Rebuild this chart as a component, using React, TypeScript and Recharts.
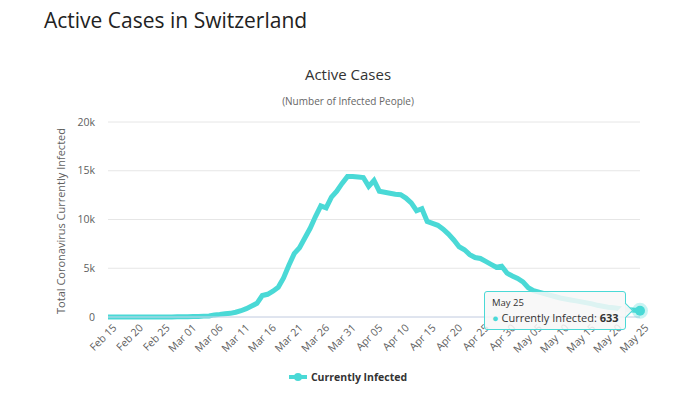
import React from "react";
import {
  LineChart,
  Line,
  XAxis,
  YAxis,
  CartesianGrid,
  Tooltip,
  Legend,
} from "recharts";

const MONTHS = ["Feb", "Mar", "Apr", "May"];
const FIRST_DAY = [15, 1, 1, 1];
const LAST_DAY = [29, 31, 30, 25];

// daily active cases, Feb 15 -> May 25
const ACTIVE = [
  0, 0, 0, 0, 0, 0, 0, 0, 0, 0,
  1, 1, 8, 15, 18,
  27, 42, 56, 90, 114,
  214, 268, 337, 374, 491,
  645, 858, 1125, 1400, 2200,
  2330, 2650, 3050, 4000, 5300,
  6500, 7100, 8100, 9100, 10300,
  11400, 11200, 12300, 12900, 13700,
  14400, 14400, 14350, 14300, 13400,
  14000, 12900, 12800, 12700, 12600,
  12550, 12200, 11700, 10900, 11100,
  9800, 9600, 9400, 9000, 8500,
  7900, 7200, 6900, 6400, 6100,
  6000, 5700, 5400, 5100, 5200,
  4500, 4200, 3950, 3600, 3000,
  2700, 2550, 2400, 2250, 2100,
  1950, 1850, 1750, 1650, 1550,
  1450, 1350, 1200, 1100, 1000,
  950, 880, 800, 740, 690,
  633,
];

const Y_TICKS = [0, 5000, 10000, 15000, 20000];

const pad = (d: number) => (d < 10 ? "0" + d : String(d));
const DATES: string[] = [];
MONTHS.forEach((m, k) => {
  for (let d = FIRST_DAY[k]; d <= LAST_DAY[k]; d++) DATES.push(`${m} ${pad(d)}`);
});

const data = DATES.map((date, i) => ({ date, infected: ACTIVE[i] }));

const TEAL = "#4ad9d6";
const FONT = "'Open Sans', sans-serif";

function XTick({ x, y, payload }: any) {
  return (
    <g transform={`translate(${x},${y})`}>
      <text
        x={4}
        y={9}
        textAnchor="end"
        transform="rotate(-45)"
        fill="#606060"
        fontSize={10.5}
        fontFamily={FONT}
      >
        {payload.value}
      </text>
    </g>
  );
}

function InfoTip({ active, payload }: any) {
  if (!active || !payload || !payload.length) return null;
  const p = payload[0].payload;
  return (
    <div
      style={{
        position: "relative",
        width: 142,
        height: 39,
        boxSizing: "border-box",
        background: "rgba(247,247,247,0.85)",
        border: `1px solid ${TEAL}`,
        borderRadius: 3,
        padding: "4px 7px",
        fontFamily: FONT,
        color: "#333",
        whiteSpace: "nowrap",
      }}
    >
      <div style={{ fontSize: 9.5, lineHeight: "14px" }}>{p.date}</div>
      <div style={{ fontSize: 11, lineHeight: "15px" }}>
        <span style={{ color: TEAL }}>● </span>
        Currently Infected: <b>{p.infected}</b>
      </div>
      <div
        style={{
          position: "absolute",
          right: -6,
          top: 13,
          width: 10,
          height: 10,
          background: "rgba(247,247,247,0.95)",
          borderTop: `1px solid ${TEAL}`,
          borderRight: `1px solid ${TEAL}`,
          transform: "rotate(45deg)",
        }}
      />
    </div>
  );
}

function LegendBox() {
  return (
    <div
      style={{
        display: "flex",
        justifyContent: "center",
        alignItems: "center",
        fontFamily: FONT,
        fontSize: 10.5,
        fontWeight: 700,
        color: "#333",
      }}
    >
      <svg width={18} height={10} style={{ marginRight: 4 }}>
        <line x1={0} y1={5} x2={18} y2={5} stroke={TEAL} strokeWidth={4} />
        <circle cx={9} cy={5} r={4} fill={TEAL} />
      </svg>
      Currently Infected
    </div>
  );
}

export default function App() {
  return (
    <div
      style={{
        position: "absolute",
        left: 0,
        top: 0,
        width: 690,
        height: 404,
        background: "#fff",
        fontFamily: FONT,
      }}
    >
      <div
        style={{
          position: "absolute",
          left: 44,
          top: 5,
          fontSize: 21,
          color: "#222",
          lineHeight: "30px",
        }}
      >
        Active Cases in Switzerland
      </div>
      <div
        style={{
          position: "absolute",
          left: 0,
          width: 696,
          top: 63,
          textAlign: "center",
          fontSize: 15,
          color: "#333",
          lineHeight: "22px",
        }}
      >
        Active Cases
      </div>
      <div
        style={{
          position: "absolute",
          left: 0,
          width: 696,
          top: 93,
          textAlign: "center",
          fontSize: 10,
          color: "#666",
          lineHeight: "16px",
        }}
      >
        (Number of Infected People)
      </div>
      <div style={{ position: "absolute", left: 0, top: 0 }}>
        <LineChart
          width={690}
          height={404}
          data={data}
          margin={{ top: 122, right: 50, left: 48, bottom: 37 }}
        >
          <CartesianGrid stroke="#e6e6e6" vertical={false} />
          <XAxis
            dataKey="date"
            interval={4}
            tick={<XTick />}
            tickLine={false}
            axisLine={{ stroke: "#ccd6eb" }}
            height={50}
          />
          <YAxis
            width={60}
            domain={[0, 20000]}
            ticks={Y_TICKS}
            tickFormatter={(v: number) => (v === 0 ? "0" : `${v / 1000}k`)}
            tick={{ fill: "#606060", fontSize: 10.5, fontFamily: FONT, dx: -5 }}
            axisLine={false}
            tickLine={false}
            label={{
              content: () => (
                <text
                  x={62}
                  y={221}
                  transform="rotate(-90 62 221)"
                  textAnchor="middle"
                  dominantBaseline="middle"
                  fill="#606060"
                  fontSize={11}
                  fontFamily={FONT}
                >
                  Total Coronavirus Currently Infected
                </text>
              ),
            }}
          />
          <Legend
            layout="horizontal"
            verticalAlign="middle"
            align="center"
            content={<LegendBox />}
            wrapperStyle={{ top: 370, left: 0, width: 696 }}
          />
          <Tooltip
            content={<InfoTip />}
            defaultIndex={100}
            cursor={false}
            position={{ x: 484, y: 291 }}
            isAnimationActive={false}
          />
          <Line
            type="linear"
            dataKey="infected"
            name="Currently Infected"
            stroke={TEAL}
            strokeWidth={5}
            dot={false}
            activeDot={{
              r: 5,
              fill: TEAL,
              stroke: "rgba(74,217,214,0.3)",
              strokeWidth: 6,
            }}
            isAnimationActive={false}
          />
        </LineChart>
      </div>
    </div>
  );
}
